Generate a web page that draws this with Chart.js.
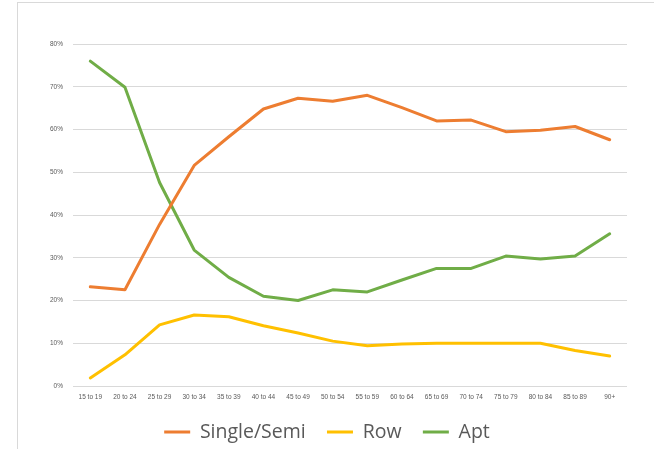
<!DOCTYPE html>
<html lang="en">
<head>
    <meta charset="UTF-8">
    <title>Dwelling type by age</title>
    <script src="https://cdn.jsdelivr.net/npm/chart.js"></script>
    <style>
        html, body { margin: 0; padding: 0; background: #fff; }
        #wrap { position: relative; width: 654px; height: 449px; }
        #frame { position: absolute; left: 17px; top: 2px; right: 0; bottom: 0;
                 border-left: 1px solid #d9d9d9; border-top: 1px solid #d9d9d9; }
        canvas { position: absolute; left: 0; top: 0; }
    </style>
</head>
<body>
    <div id="wrap">
        <div id="frame"></div>
        <canvas id="chart" width="654" height="449"></canvas>
    </div>
    <script>
        // age groups (x axis)
        var ageGroups = ['15 to 19', '20 to 24', '25 to 29', '30 to 34', '35 to 39', '40 to 44', '45 to 49',
            '50 to 54', '55 to 59', '60 to 64', '65 to 69', '70 to 74', '75 to 79', '80 to 84', '85 to 89', '90+'];

        // share of people by dwelling type, in %
        var singleSemi = [23.2, 22.5, 37.8, 51.6, 58.3, 64.8, 67.3, 66.6, 68.0, 65.1, 62.0, 62.2, 59.5, 59.8, 60.7, 57.6];
        var row = [1.9, 7.3, 14.3, 16.6, 16.2, 14.1, 12.4, 10.5, 9.4, 9.8, 10.0, 10.0, 10.0, 10.0, 8.3, 7.0];
        var apt = [76.0, 69.9, 47.6, 31.8, 25.4, 21.0, 20.0, 22.5, 22.0, 24.8, 27.5, 27.5, 30.4, 29.7, 30.4, 35.6];

        var ctx = document.getElementById('chart').getContext('2d');
        var chart = new Chart(ctx, {
            type: 'line',
            data: {
                labels: ageGroups,
                datasets: [
                    { label: 'Single/Semi', data: singleSemi, borderColor: '#ED7D31', backgroundColor: '#ED7D31', borderWidth: 3 },
                    { label: 'Row', data: row, borderColor: '#FFC000', backgroundColor: '#FFC000', borderWidth: 3 },
                    { label: 'Apt', data: apt, borderColor: '#70AD47', backgroundColor: '#70AD47', borderWidth: 3 }
                ]
            },
            options: {
                responsive: false,
                animation: false,
                layout: { padding: { top: 44, right: 0, bottom: -2.75, left: 0 } },
                elements: {
                    line: { tension: 0, borderJoinStyle: 'round', borderCapStyle: 'round' },
                    point: { radius: 0 }
                },
                scales: {
                    x: {
                        offset: true,
                        afterFit: function (scale) { scale.height = 15; },
                        grid: { display: false, drawTicks: false, tickLength: 0 },
                        border: { display: false },
                        ticks: { color: '#595959', font: { family: 'Liberation Sans', size: 6.5 },
                                 maxRotation: 0, autoSkip: false, padding: 7 }
                    },
                    y: {
                        min: 0, max: 80,
                        afterFit: function (scale) { scale.width = 73; },
                        grid: { color: '#d9d9d9', lineWidth: 1, drawTicks: false },
                        border: { display: false },
                        ticks: { stepSize: 10, color: '#595959', font: { family: 'Liberation Sans', size: 6.5 },
                                 padding: 10, callback: function (v) { return v + '%'; } }
                    },
                    // empty right margin so the legend stays centred on the page
                    yRight: {
                        position: 'right',
                        afterFit: function (scale) { scale.width = 27; },
                        grid: { display: false, drawTicks: false },
                        border: { display: false },
                        ticks: { display: false }
                    }
                },
                plugins: {
                    legend: {
                        position: 'bottom',
                        labels: {
                            usePointStyle: true,
                            pointStyle: 'line',
                            pointStyleWidth: 26,
                            padding: 21.25,
                            color: '#595959',
                            font: { family: 'Open Sans', size: 19.5 }
                        }
                    },
                    tooltip: { enabled: false }
                }
            }
        });
    </script>
</body>
</html>
